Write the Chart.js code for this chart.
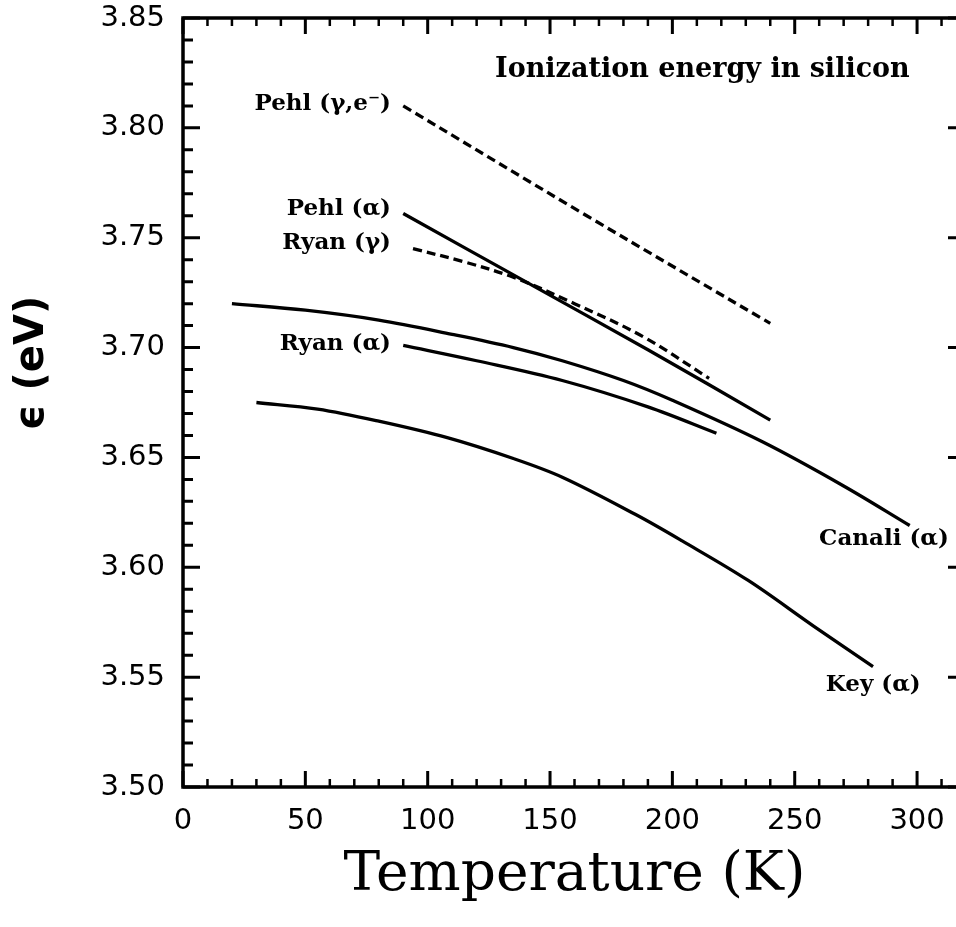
<!DOCTYPE html>
<html>
<head>
<meta charset="utf-8">
<script src="https://cdn.jsdelivr.net/npm/chart.js@4.4.1/dist/chart.umd.min.js"></script>
<style>
  html, body { margin: 0; padding: 0; background: #fff; overflow: hidden; }
  canvas { display: block; }
</style>
</head>
<body>
<canvas id="myChart" width="970" height="927"></canvas>
<script>
// Temperature (K) / ionization energy (eV) for each measurement
const pehlGammaT = [90, 165, 240];
const pehlGammaE = [3.810, 3.760, 3.711];

const pehlAlphaT = [90, 140, 190, 240];
const pehlAlphaE = [3.761, 3.730, 3.699, 3.667];

const ryanGammaT = [94, 115, 135, 160, 188, 215];
const ryanGammaE = [3.745, 3.739, 3.732, 3.720, 3.705, 3.686];

const canaliT = [20, 50, 80, 110, 135, 155, 180, 200, 237, 270, 297];
const canaliE = [3.720, 3.717, 3.7125, 3.706, 3.700, 3.694, 3.685, 3.676, 3.657, 3.637, 3.619];

const ryanAlphaT = [90, 120, 155, 190, 218];
const ryanAlphaE = [3.701, 3.694, 3.685, 3.673, 3.661];

const keyT = [30, 55, 80, 108, 135, 155, 185, 204, 231, 258, 282];
const keyE = [3.675, 3.672, 3.6665, 3.659, 3.6495, 3.641, 3.624, 3.612, 3.594, 3.573, 3.5548];

// axis tick labels
const xTicks = [0, 50, 100, 150, 200, 250, 300];
const yTicks = [3.50, 3.55, 3.60, 3.65, 3.70, 3.75, 3.80, 3.85];

// curve names, placed next to the curve ends (data units)
const curveLabels = [
  { text: 'Pehl (\u03b3,e\u207b)', x: 85, y: 3.811 },
  { text: 'Pehl (\u03b1)', x: 85, y: 3.763 },
  { text: 'Ryan (\u03b3)', x: 85, y: 3.7476 },
  { text: 'Ryan (\u03b1)', x: 85, y: 3.7016 },
  { text: 'Canali (\u03b1)', x: 313, y: 3.6129 },
  { text: 'Key (\u03b1)', x: 301.5, y: 3.5464 }
];
const plotTitle = { text: 'Ionization energy in silicon', x: 297, y: 3.8263 };

function toPoints(ts, es) {
  return ts.map((t, i) => ({ x: t, y: es[i] }));
}

function curve(ts, es, dashed) {
  return {
    data: toPoints(ts, es),
    borderColor: '#000',
    borderWidth: 3.3,
    borderDash: dashed ? [9, 5] : [],
    pointRadius: 0,
    tension: 0.35,
    fill: false
  };
}

// box, inward ticks, curve names and the vertical axis title
const frameAndLabels = {
  id: 'frameAndLabels',
  afterDraw(chart) {
    const ctx = chart.ctx;
    const a = chart.chartArea;
    const xs = chart.scales.x;
    const ys = chart.scales.y;
    ctx.save();
    ctx.strokeStyle = '#000';
    ctx.lineCap = 'butt';

    // x ticks every 10 K, bigger every 50 K
    for (let t = 0; t <= 320; t += 10) {
      const px = xs.getPixelForValue(t);
      const major = t % 50 === 0;
      ctx.lineWidth = major ? 3 : 2.5;
      const len = major ? 16 : 8;
      ctx.beginPath();
      ctx.moveTo(px, a.bottom);
      ctx.lineTo(px, a.bottom - len);
      ctx.moveTo(px, a.top);
      ctx.lineTo(px, a.top + len);
      ctx.stroke();
    }
    // y ticks every 0.01 eV, bigger every 0.05 eV
    for (let i = 350; i <= 385; i++) {
      const py = ys.getPixelForValue(i / 100);
      const major = i % 5 === 0;
      ctx.lineWidth = 3;
      ctx.beginPath();
      ctx.moveTo(a.left, py);
      ctx.lineTo(a.left + (major ? 17 : 10), py);
      ctx.moveTo(a.right, py);
      ctx.lineTo(a.right - (major ? 18 : 9), py);
      ctx.stroke();
    }

    ctx.lineWidth = 3.5;
    ctx.strokeRect(a.left, a.top, a.right - a.left, a.bottom - a.top);

    ctx.fillStyle = '#000';
    ctx.textBaseline = 'middle';
    ctx.textAlign = 'right';
    ctx.font = 'bold 23px "DejaVu Serif"';
    curveLabels.forEach(l => {
      ctx.fillText(l.text, xs.getPixelForValue(l.x), ys.getPixelForValue(l.y));
    });
    ctx.font = 'bold 27px "DejaVu Serif"';
    ctx.fillText(plotTitle.text, xs.getPixelForValue(plotTitle.x), ys.getPixelForValue(plotTitle.y));

    ctx.translate(33, ys.getPixelForValue(3.693));
    ctx.rotate(-Math.PI / 2);
    ctx.textAlign = 'center';
    ctx.font = 'bold 40px "DejaVu Sans"';
    ctx.fillText('\u03f5 (eV)', 0, 0);
    ctx.restore();
  }
};

const ctx = document.getElementById('myChart').getContext('2d');
const chart = new Chart(ctx, {
  type: 'line',
  data: {
    datasets: [
      curve(pehlGammaT, pehlGammaE, true),
      curve(pehlAlphaT, pehlAlphaE, false),
      curve(ryanGammaT, ryanGammaE, true),
      curve(canaliT, canaliE, false),
      curve(ryanAlphaT, ryanAlphaE, false),
      curve(keyT, keyE, false)
    ]
  },
  options: {
    responsive: false,
    animation: false,
    devicePixelRatio: 1,
    layout: { padding: { top: 18, right: 4, left: 0, bottom: 0 } },
    plugins: {
      legend: { display: false },
      tooltip: { enabled: false }
    },
    scales: {
      x: {
        type: 'linear',
        min: 0,
        max: 320,
        afterBuildTicks: s => { s.ticks = xTicks.map(v => ({ value: v })); },
        afterFit: s => {
          s.height = 140;
          s.paddingLeft = 0;
          s.paddingRight = 0;
        },
        grid: { display: false, drawTicks: false },
        border: { display: false },
        ticks: {
          padding: 17,
          color: '#000',
          maxRotation: 0,
          font: { family: 'DejaVu Sans', size: 29 },
          callback: v => String(v)
        },
        title: {
          display: true,
          text: 'Temperature (K)',
          color: '#000',
          font: { family: 'DejaVu Serif', size: 55 },
          padding: { top: 0, bottom: 18 }
        }
      },
      y: {
        type: 'linear',
        min: 3.50,
        max: 3.85,
        afterBuildTicks: s => { s.ticks = yTicks.map(v => ({ value: v })); },
        afterFit: s => {
          s.width = 183;
          s.paddingTop = 0;
          s.paddingBottom = 0;
        },
        grid: { display: false, drawTicks: false },
        border: { display: false },
        ticks: {
          padding: 18,
          color: '#000',
          font: { family: 'DejaVu Sans', size: 29 },
          callback: v => v.toFixed(2)
        }
      }
    }
  },
  plugins: [frameAndLabels]
});
</script>
</body>
</html>
